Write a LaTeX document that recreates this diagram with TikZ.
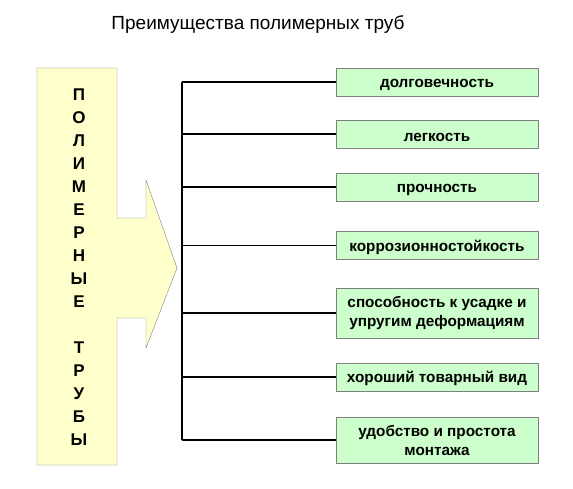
\documentclass[tikz,border=0pt]{standalone}
\usepackage{fontspec}
\setmainfont{Liberation Sans}
\usepackage{tikz}
\definecolor{paleyellow}{RGB}{255,255,204}
\definecolor{palegreen}{RGB}{204,255,204}

\begin{document}
\begin{tikzpicture}[x=1pt,y=-1pt,
    plus/.style={draw=gray,fill=palegreen,minimum width=202pt,minimum height=28pt,inner sep=1pt,align=center,font=\bfseries\fontsize{15.3}{19}\selectfont,execute at begin node={\rule{0pt}{15pt}}},
    wire/.style={line width=1.3pt}]
    \useasboundingbox (0,0) rectangle (573,488);
    \node (title) at (258,25) {\fontsize{19}{23}\selectfont Преимущества полимерных труб};
    \fill[paleyellow] (37,68) -- (117,68) -- (117,218) -- (146,218) -- (146,180) -- (177,268) -- (146,348) -- (146,318) -- (117,318) -- (117,465) -- (37,465) -- cycle;
    \draw[gray] (37,68) -- (117,68) -- (117,218) -- (146,218) -- (146,180) -- (177,268) -- (146,348) -- (146,318) -- (117,318) -- (117,465) -- (37,465) -- cycle;
    \node[align=center,font=\bfseries\fontsize{17}{23}\selectfont] (pipes) at (79,267) {П\\О\\Л\\И\\М\\Е\\Р\\Н\\Ы\\Е\\ \\Т\\Р\\У\\Б\\Ы};
    \node[plus] (dolg) at (437,82) {долговечность};
    \node[plus] (legk) at (437,134) {легкость};
    \node[plus] (proch) at (437,187) {прочность};
    \node[plus] (korr) at (437,245.5) {коррозионностойкость};
    \node[plus,minimum height=50pt] (sposob) at (437,313) {способность к усадке и\\упругим деформациям};
    \node[plus] (vid) at (437,377) {хороший товарный вид};
    \node[plus,minimum height=46pt] (montazh) at (437,440) {удобство и простота\\монтажа};
    \coordinate (bus) at (182,0);
    \draw[wire] (dolg.west -| bus) -- (montazh.west -| bus);
    \foreach \b in {dolg,legk,proch,korr,sposob,vid,montazh}
      \draw[wire] (\b.west) -- (\b.west -| bus);
\end{tikzpicture}
\end{document}
